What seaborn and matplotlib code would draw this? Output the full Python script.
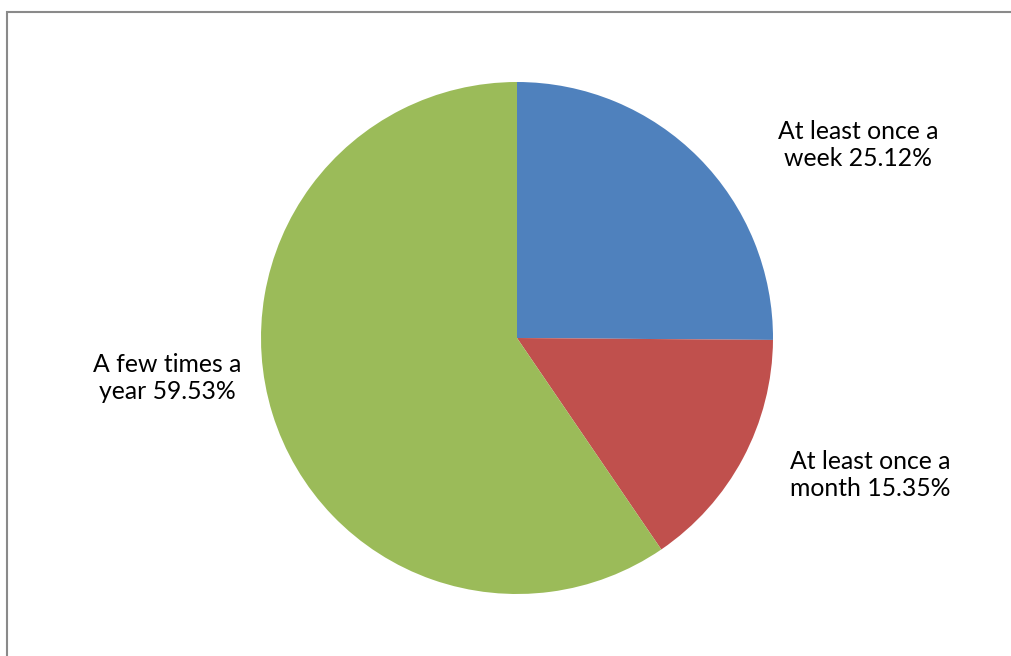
import matplotlib.pyplot as plt
import seaborn as sns
from matplotlib.patches import Rectangle

sns.set_theme(style="white")
plt.rcParams['font.family'] = ['Lato', 'DejaVu Sans']

# data
categories = ['At least once a week', 'At least once a month', 'A few times a year']
shares = [25.12, 15.35, 59.53]
label_text = ['At least once a\nweek 25.12%', 'At least once a\nmonth 15.35%', 'A few times a\nyear 59.53%']
colors = ['#4F81BD', '#C0504D', '#9BBB59']

W, H = 1012, 656
fig = plt.figure(figsize=(W / 100, H / 100), dpi=100)
ax = fig.add_axes([0, 0, 1, 1])

# pie in pixel-like data units
cx, cy, r = 517, H - 338, 256
ax.pie(shares, colors=colors, startangle=90, counterclock=False,
       center=(cx, cy), radius=r, wedgeprops=dict(linewidth=0))
ax.set_xlim(0, W)
ax.set_ylim(0, H)
ax.set_aspect('equal')
ax.axis('off')

# label anchors (pixel coords from top-left)
label_pos = [(858, 145), (870, 475), (167, 378)]
for txt, (px, py) in zip(label_text, label_pos):
    ax.text(px, H - py, txt, ha='center', va='center', fontsize=17.8,
            color='black', linespacing=1.25)

# chart border, cut off at right and bottom
ax.add_patch(Rectangle((7.5, -20), W + 20, H - 11.5 + 20, fill=False,
                       edgecolor='#8a8a8a', linewidth=1.5))

fig.savefig('out.png', dpi=100)
